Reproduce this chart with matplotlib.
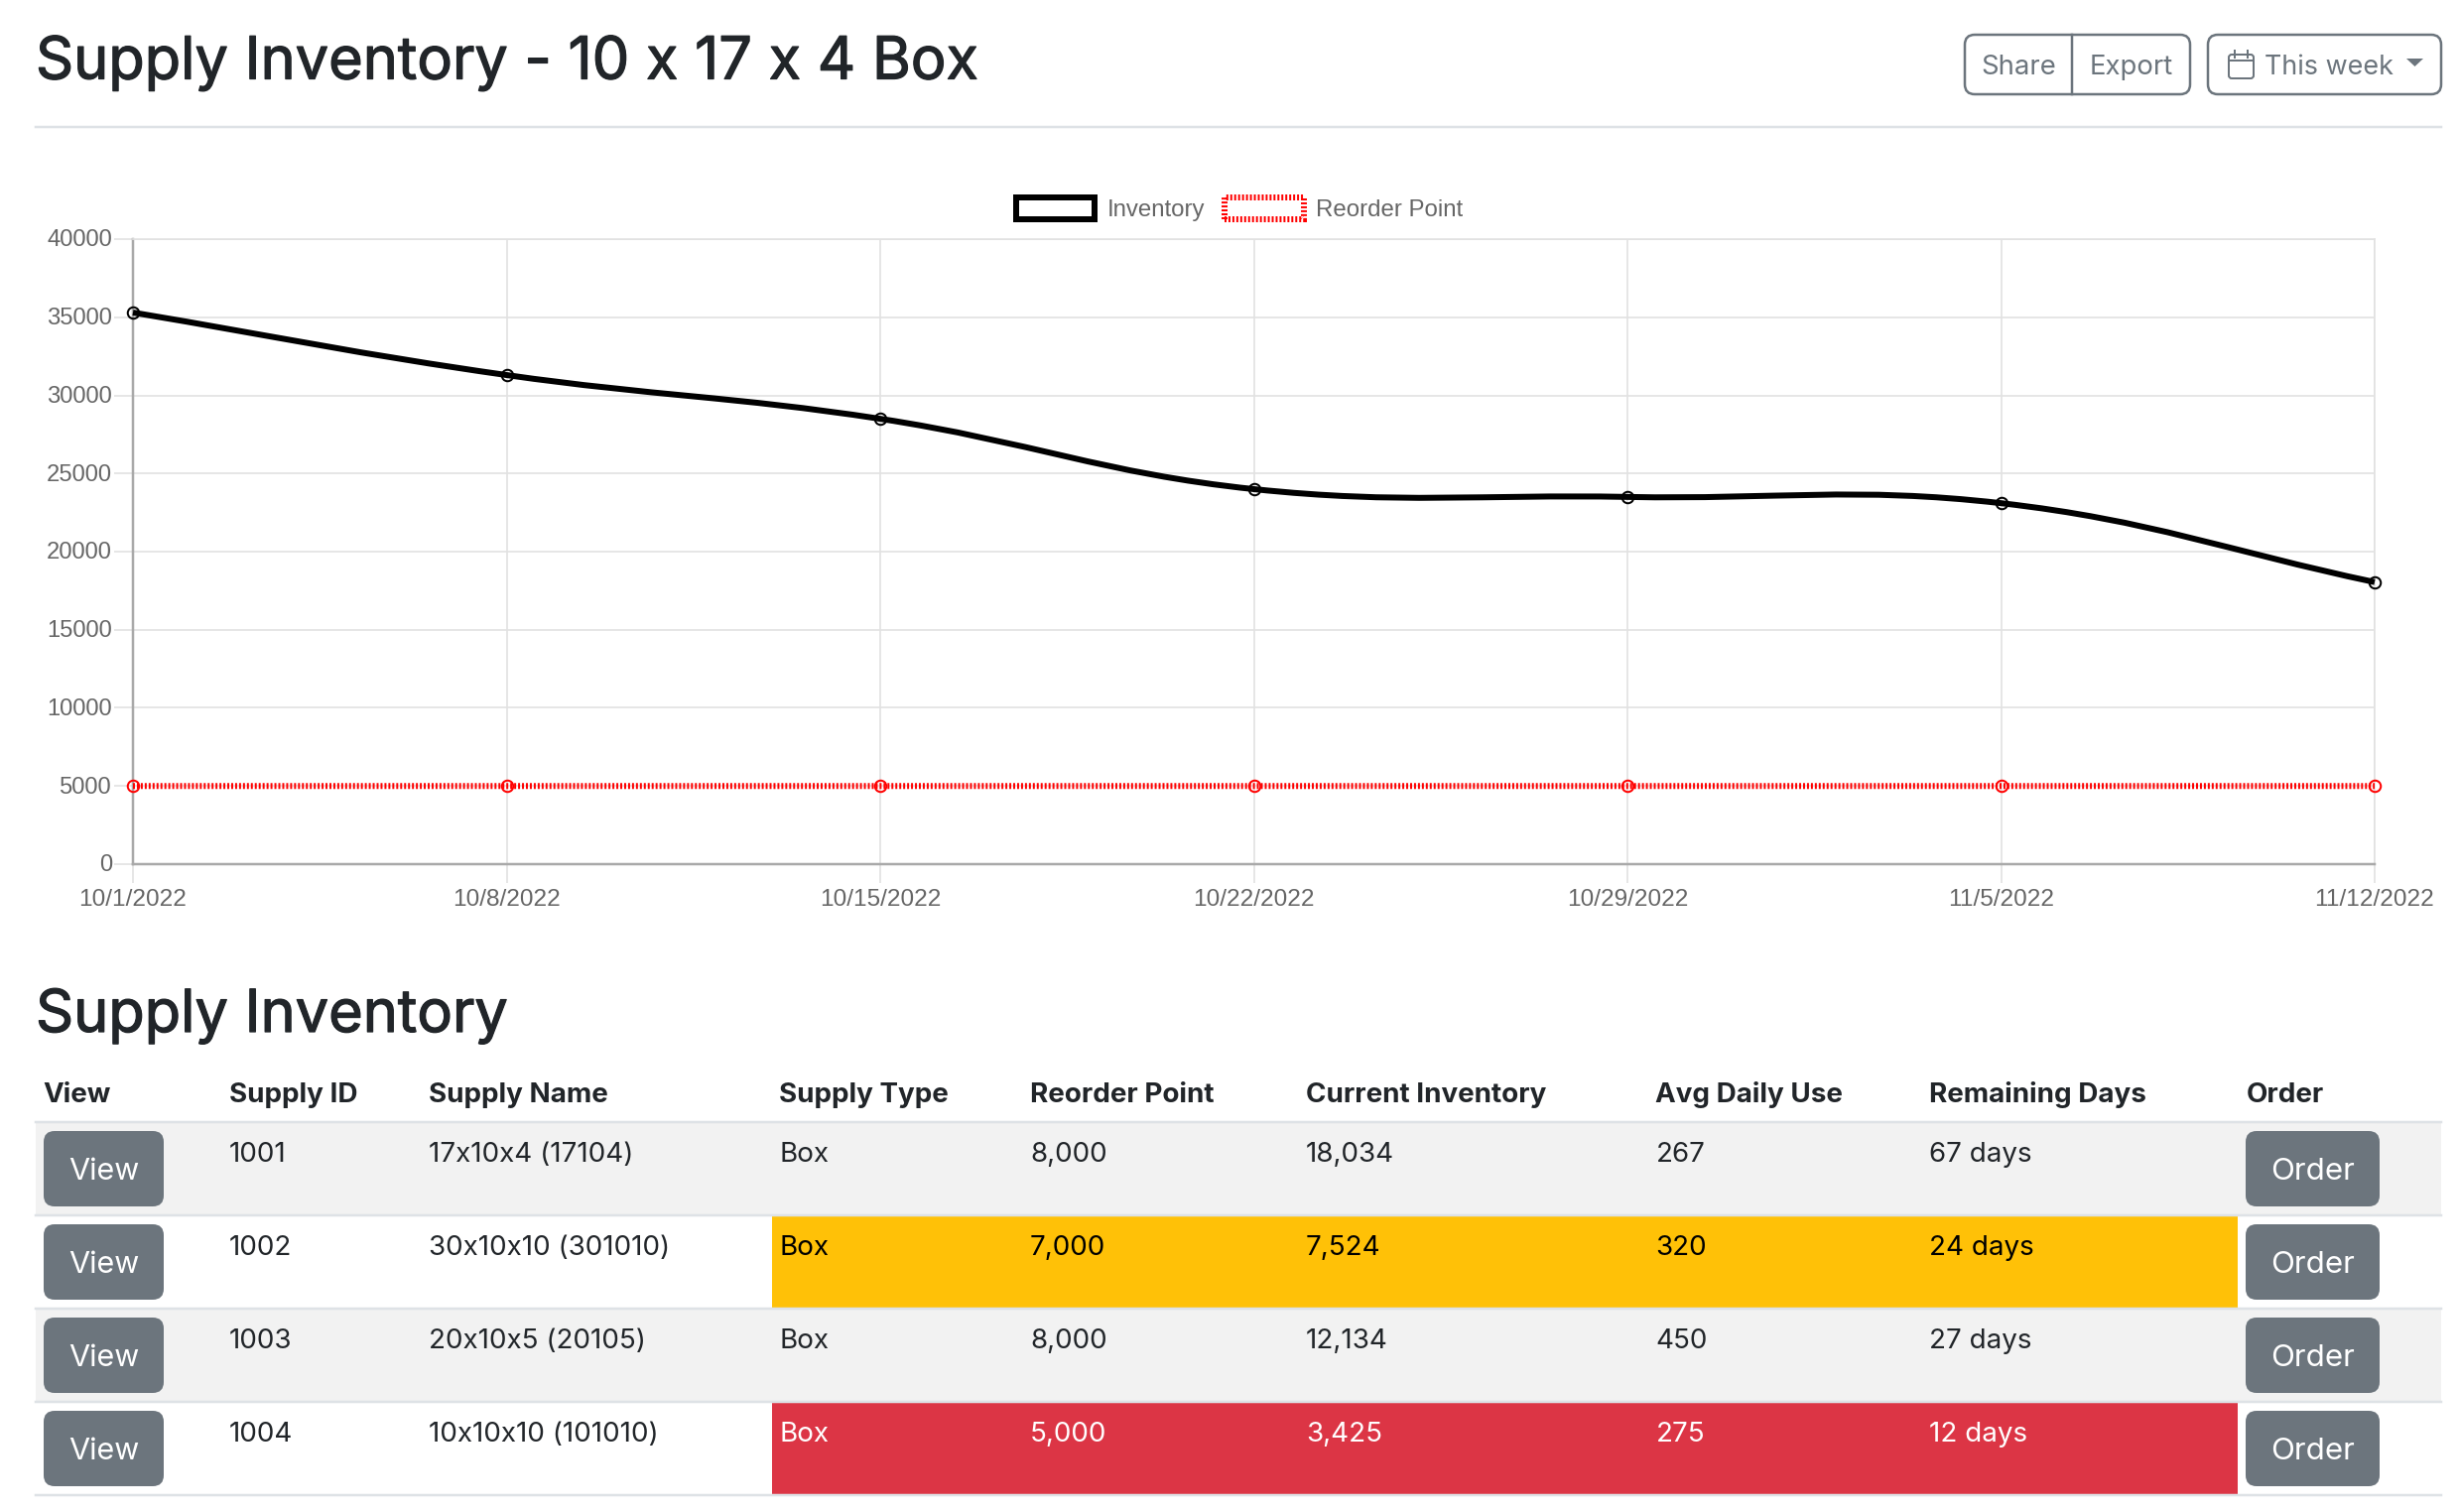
import matplotlib
matplotlib.use('Agg')
import matplotlib.pyplot as plt
from matplotlib.patches import FancyBboxPatch, Patch, PathPatch, Polygon, Rectangle
from matplotlib.path import Path
from matplotlib.transforms import ScaledTranslation
import matplotlib.patheffects as pe
import numpy as np

# chart values
dates = ['10/1/2022', '10/8/2022', '10/15/2022', '10/22/2022', '10/29/2022', '11/5/2022', '11/12/2022']
inventory = [35300, 31300, 28500, 24000, 23500, 23100, 18050]
reorder_point = [5000, 5000, 5000, 5000, 5000, 5000, 5000]
y_ticks = [0, 5000, 10000, 15000, 20000, 25000, 30000, 35000, 40000]

# table values
headers = ['View', 'Supply ID', 'Supply Name', 'Supply Type', 'Reorder Point',
           'Current Inventory', 'Avg Daily Use', 'Remaining Days', 'Order']
supply_ids = ['1001', '1002', '1003', '1004']
supply_names = ['17x10x4 (17104)', '30x10x10 (301010)', '20x10x5 (20105)', '10x10x10 (101010)']
supply_types = ['Box', 'Box', 'Box', 'Box']
reorder_points = ['8,000', '7,000', '8,000', '5,000']
current_inv = ['18,034', '7,524', '12,134', '3,425']
daily_use = ['267', '320', '450', '275']
remaining = ['67 days', '24 days', '27 days', '12 days']
row_status = [None, 'warn', None, 'danger']

W, H = 2478, 1524
UI = 'Inter'
DARK = '#212529'
GRAY = '#6c757d'
GRID = '#e2e2e2'
AXIS = '#a9a9a9'
LINE = '#dee2e6'


def px(v):
    # pixels to points at dpi 100
    return v * 0.72


plt.rcParams['font.family'] = ['Liberation Sans', 'DejaVu Sans']
fig = plt.figure(figsize=(W / 100, H / 100), dpi=100, facecolor='white')

# overlay in pixel coordinates for the page parts
page = fig.add_axes([0, 0, 1, 1])
page.set_xlim(0, W)
page.set_ylim(H, 0)
page.axis('off')

# Inter has no medium face here, thicken the headings a little
medium = [pe.withStroke(linewidth=0.9, foreground=DARK)]


def button(x0, y0, x1, y1, face='none', edge='none', lw=0, r=10):
    page.add_patch(FancyBboxPatch((x0 + r, y0 + r), x1 - x0 - 2 * r, y1 - y0 - 2 * r,
                                  boxstyle='round,pad=%d,rounding_size=%d' % (r, r),
                                  fc=face, ec=edge, lw=px(lw)))


# page header
page.text(36, 79.5, 'Supply Inventory - 10 x 17 x 4 Box', family=UI, fontsize=42.8, color=DARK,
          va='baseline', path_effects=medium)
page.plot([36, 2460], [128, 128], color=LINE, lw=px(2.5))

button(1980, 35, 2207, 95, edge=GRAY, lw=2.5)
page.plot([2088, 2088], [35, 95], color=GRAY, lw=px(2.5))
button(2225, 35, 2460, 95, edge=GRAY, lw=2.5)
page.text(2034, 75, 'Share', family=UI, fontsize=19.8, color=GRAY, ha='center', va='baseline')
page.text(2148, 75, 'Export', family=UI, fontsize=19.8, color=GRAY, ha='center', va='baseline')
page.text(2282, 75, 'This week', family=UI, fontsize=19.4, color=GRAY, va='baseline')
# calendar icon and caret
button(2246, 55, 2271, 79, edge=GRAY, lw=2, r=3)
page.plot([2246, 2271], [61, 61], color=GRAY, lw=px(2))
page.plot([2252, 2252], [51, 58], color=GRAY, lw=px(2))
page.plot([2265, 2265], [51, 58], color=GRAY, lw=px(2))
page.add_patch(Polygon([(2425, 59), (2442, 59), (2433.5, 67)], fc=GRAY, ec='none'))

# chart
ax = fig.add_axes([134 / W, 1 - 871 / H, (2393 - 134) / W, (871 - 241) / H])
ax.patch.set_alpha(0)
x = np.arange(len(dates))
ax.set_xlim(0, len(dates) - 1)
ax.set_ylim(0, 40000)
ax.set_xticks(x)
ax.set_xticklabels(dates)
ax.set_yticks(y_ticks)
ax.grid(True, color=GRID, lw=px(1.7))
ax.set_axisbelow(True)
ax.tick_params(axis='both', length=px(19), width=px(1.7), color=GRID, labelcolor='#666666', labelsize=17.1)
ax.tick_params(axis='x', pad=px(6.5), labelsize=17.6)
ax.tick_params(axis='y', pad=px(2))
for side in ['top', 'right']:
    ax.spines[side].set_color(GRID)
    ax.spines[side].set_linewidth(px(1.7))
for side in ['left', 'bottom']:
    ax.spines[side].set_color(AXIS)
    ax.spines[side].set_linewidth(px(2.5))
# y labels sit a touch higher in the original
for lab in ax.get_yticklabels():
    lab.set_transform(lab.get_transform() + ScaledTranslation(0, 1.2 / 100, fig.dpi_scale_trans))


def spline_path(xs, ys, tension=0.4):
    # bezier through the points, same control point rule as Chart.js
    pts = ax.transData.transform(np.column_stack([xs, ys]))
    inv = ax.transData.inverted()
    verts = [pts[0]]
    codes = [Path.MOVETO]
    n = len(pts)
    for i in range(n - 1):
        p0, p1, p2, p3 = pts[max(i - 1, 0)], pts[i], pts[i + 1], pts[min(i + 2, n - 1)]
        d1 = np.hypot(*(p1 - p0))
        d2 = np.hypot(*(p2 - p1))
        d3 = np.hypot(*(p3 - p2))
        c1 = p1 + tension * d2 / (d1 + d2) * (p2 - p0)
        c2 = p2 - tension * d2 / (d2 + d3) * (p3 - p1)
        verts += [c1, c2, p2]
        codes += [Path.CURVE4] * 3
    return Path(inv.transform(np.array(verts)), codes)


dots = (0, (0.33, 0.33))
ax.add_patch(PathPatch(spline_path(x, reorder_point), fc='none', ec='red', lw=px(6), ls=dots,
                       capstyle='butt', clip_on=False, zorder=3))
ax.plot(x, reorder_point, ls='none', marker='o', ms=px(11.5), mfc='none', mec='red', mew=px(2), clip_on=False, zorder=4)
ax.add_patch(PathPatch(spline_path(x, inventory), fc='none', ec='black', lw=px(6), capstyle='butt',
                       clip_on=False, zorder=5))
ax.plot(x, inventory, ls='none', marker='o', ms=px(11.5), mfc='none', mec='black', mew=px(2), clip_on=False, zorder=6)

handles = [Patch(fc='white', ec='black', lw=px(6), label='Inventory'),
           Patch(fc='white', ec='red', lw=px(6), ls=dots, label='Reorder Point')]
ax.legend(handles=handles, loc='lower center', bbox_to_anchor=(0.4935, 1.0), ncol=2, frameon=False,
          fontsize=17.3, labelcolor='#666666', handlelength=3.3, handleheight=1.0,
          handletextpad=0.5, columnspacing=0.85, borderpad=0.45, borderaxespad=0.3)

# table
page.text(36, 1040, 'Supply Inventory', family=UI, fontsize=42.8, color=DARK, va='baseline', path_effects=medium)

col_x = [43.5, 231, 431.5, 785, 1038, 1316, 1668.5, 1944, 2263.5]
for cx, h in zip(col_x, headers):
    page.text(cx, 1111, h, family=UI, fontsize=20, fontweight='bold', color=DARK, va='baseline')

row_tops = [1132, 1226, 1320, 1414]
row_h = 92
status_fill = {'warn': '#ffc107', 'danger': '#dc3545'}
status_text = {'warn': '#000000', 'danger': '#ffffff'}

page.plot([36, 2460], [1130.5, 1130.5], color=LINE, lw=px(2.5))
for i, top in enumerate(row_tops):
    if i % 2 == 0:
        page.add_patch(Rectangle((36, top), 2424, row_h, fc='#f2f2f2', ec='none'))
    if row_status[i]:
        page.add_patch(Rectangle((778, top), 2255 - 778, row_h, fc=status_fill[row_status[i]], ec='none'))
    page.plot([36, 2460], [top + row_h + 1, top + row_h + 1], color=LINE, lw=px(2.5))

    button(44, top + 8, 165, top + 84, face=GRAY, r=11)
    button(2263, top + 8, 2398, top + 84, face=GRAY, r=11)
    page.text(104.5, top + 57, 'View', family=UI, fontsize=22, color='white', ha='center', va='baseline')
    page.text(2330.5, top + 57, 'Order', family=UI, fontsize=22.5, color='white', ha='center', va='baseline')

    base = top + 39
    page.text(col_x[1], base, supply_ids[i], family=UI, fontsize=20, color=DARK, va='baseline')
    page.text(col_x[2], base, supply_names[i], family=UI, fontsize=20, color=DARK, va='baseline')
    tc = status_text.get(row_status[i], DARK)
    for cx, col in zip(col_x[3:8], [supply_types, reorder_points, current_inv, daily_use, remaining]):
        page.text(cx, base, col[i], family=UI, fontsize=20, color=tc, va='baseline')

fig.savefig('out.png', dpi=100, facecolor='white')
